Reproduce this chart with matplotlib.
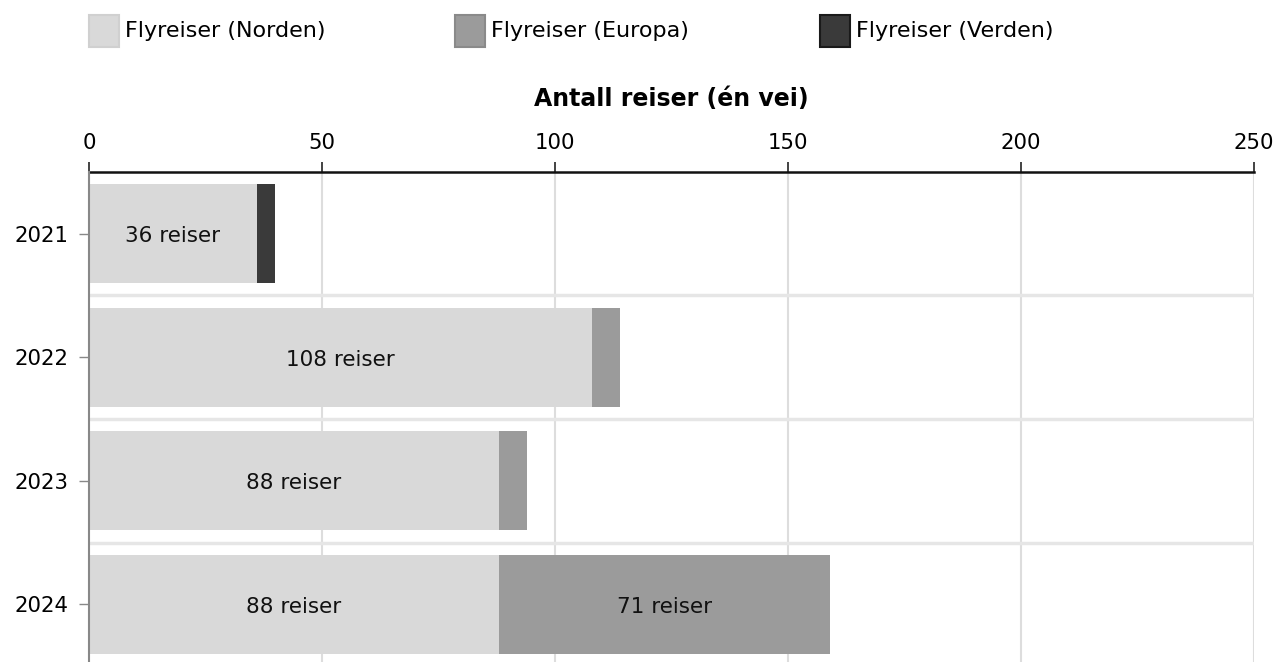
import numpy as np
import matplotlib.pyplot as plt
from matplotlib.patches import Rectangle

years = ["2021", "2022", "2023", "2024"]
norden = [36, 108, 88, 88]
europa = [0, 6, 6, 71]
verden = [4, 0, 0, 0]

series = [
    ("Flyreiser (Norden)", norden, "#d9d9d9", "#d0d0d0"),
    ("Flyreiser (Europa)", europa, "#9b9b9b", "#8a8a8a"),
    ("Flyreiser (Verden)", verden, "#3a3a3a", "#1a1a1a"),
]

plt.rcParams['font.family'] = ['DejaVu Sans']

fig = plt.figure(figsize=(12.75, 6.62), dpi=100)
ax = fig.add_axes([89 / 1275, -4 / 662, (1254 - 89) / 1275, (666 - 172) / 662])

y = np.arange(len(years))
left = np.zeros(len(years))
for name, vals, color, edge in series:
    vals = np.array(vals, dtype=float)
    ax.barh(y, vals, left=left, height=0.8, color=color, zorder=3)
    for i, v in enumerate(vals):
        if v >= 20:
            ax.text(left[i] + v / 2, y[i] + 0.02, f"{int(v)} reiser", ha="center", va="center",
                    fontsize=15.5, color="#111111", zorder=4)
    left += vals

ax.set_xlim(0, 250)
ax.set_ylim(len(years) - 0.5, -0.5)
ax.set_yticks(y)
ax.set_yticklabels(years, fontsize=15.3)
ax.set_xticks([0, 50, 100, 150, 200, 250])
ax.tick_params(axis="x", labelsize=15.3, top=True, labeltop=True, bottom=False, labelbottom=False,
               length=7, width=1.2, color="#222222", pad=7)
ax.tick_params(axis="y", length=7, width=1, color="#888888", pad=8)

# grid
for xv in [50, 100, 150, 200, 250]:
    ax.axvline(xv, color="#dddddd", lw=1.5, zorder=1)
for yb in [0.5, 1.5, 2.5]:
    ax.axhline(yb, color="#e6e6e6", lw=2.5, zorder=1)

for s in ["right", "bottom"]:
    ax.spines[s].set_visible(False)
ax.spines["top"].set_color("#111111")
ax.spines["top"].set_linewidth(1.8)
ax.spines["left"].set_color("#888888")
ax.spines["left"].set_linewidth(1.5)
ax.spines["left"].set_zorder(5)

ax.xaxis.set_label_position("top")
ax.set_xlabel("Antall reiser (én vei)", fontsize=17, fontweight="bold", labelpad=19)

# legend across the top
legend_x = [89, 455, 820]
for (name, vals, color, edge), lx in zip(series, legend_x):
    fig.patches.append(Rectangle((lx / 1275, 1 - 47 / 662), 30 / 1275, 32 / 662,
                                 transform=fig.transFigure, facecolor=color, edgecolor=edge, lw=1.5))
    fig.text((lx + 36) / 1275, 1 - 31 / 662, name, fontsize=16, va="center", ha="left")

fig.savefig("out.png", dpi=100)
